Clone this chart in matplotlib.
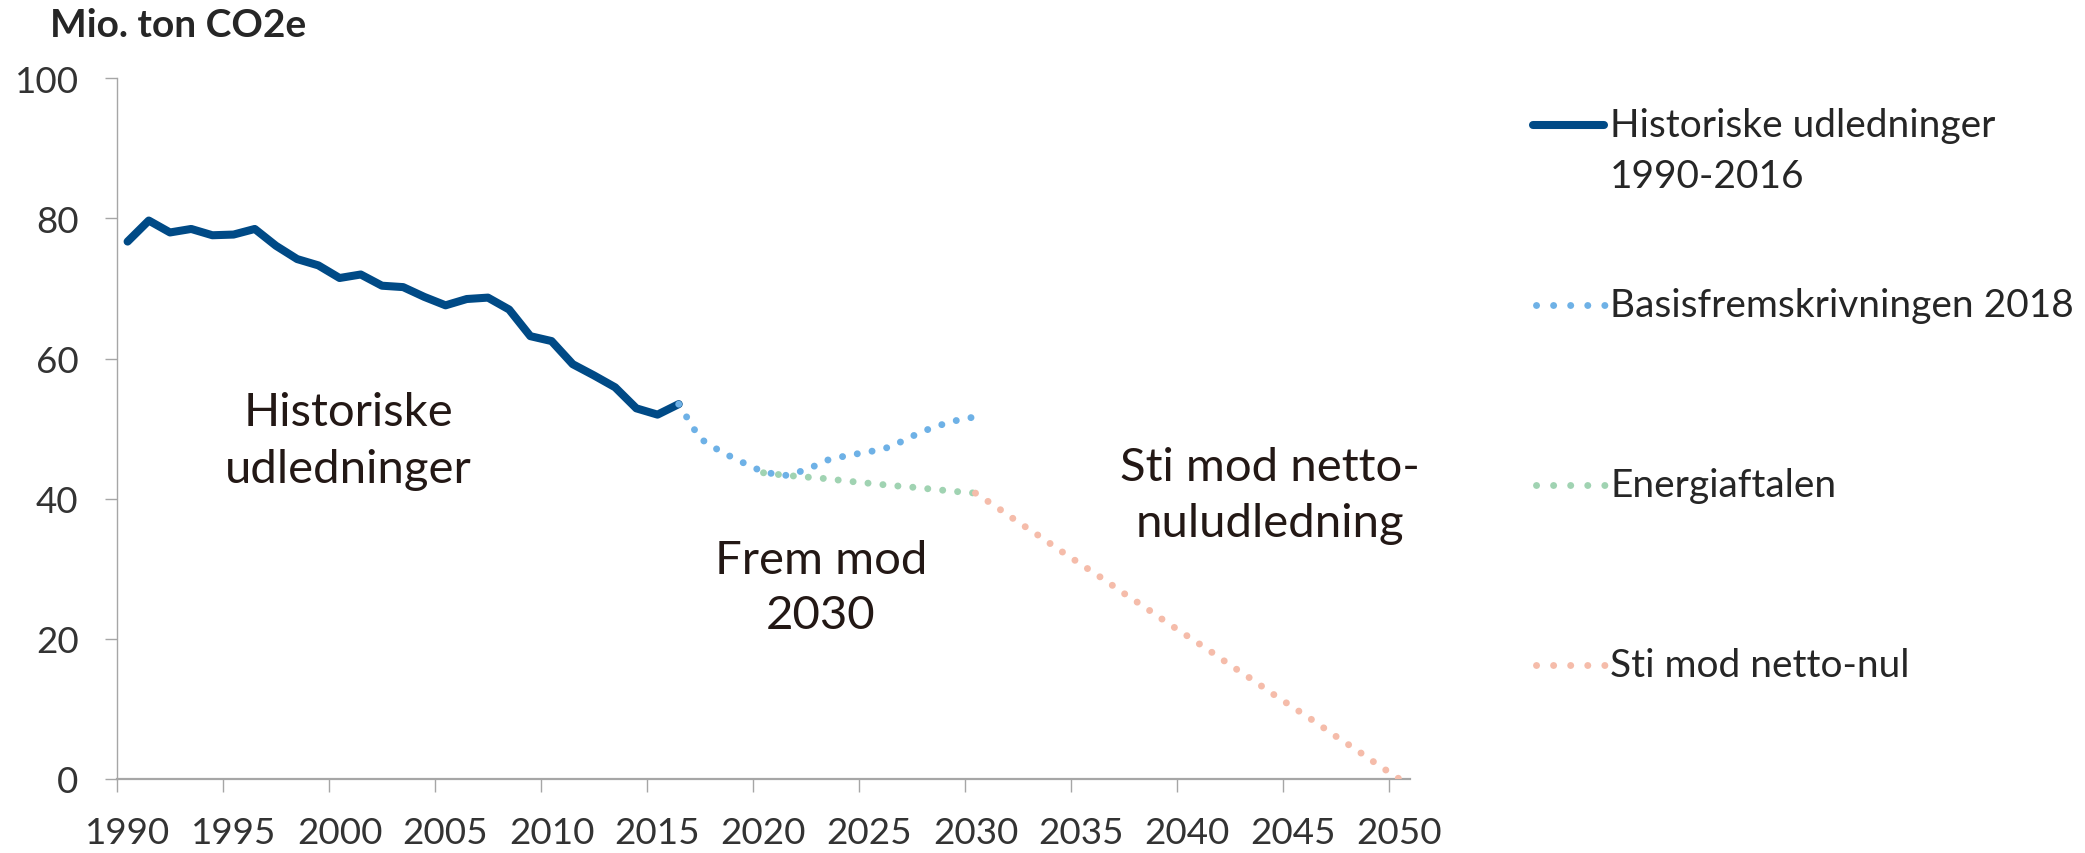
import matplotlib
matplotlib.use('Agg')
import matplotlib.pyplot as plt
from matplotlib.lines import Line2D

plt.rcParams['font.family'] = ['Lato', 'DejaVu Sans']

# ---- data ----
years_hist = list(range(1990, 2017))
hist = [76.7, 79.7, 78.0, 78.5, 77.6, 77.7, 78.5, 76.1, 74.2, 73.3,
        71.5, 72.0, 70.4, 70.2, 68.8, 67.6, 68.5, 68.7, 67.0, 63.2,
        62.5, 59.2, 57.6, 55.9, 52.9, 52.0, 53.5]
years_basis = list(range(2016, 2031))
basis = [53.5, 48.6, 46.7, 45.2, 43.8, 43.3, 44.1, 45.5, 46.2, 46.7,
         47.4, 48.9, 50.2, 51.1, 51.7]
years_energi = list(range(2020, 2031))
energi = [43.7, 43.35, 43.1, 42.85, 42.5, 42.2, 41.9, 41.65, 41.35, 41.05, 40.8]
years_netto = list(range(2030, 2051))
netto = [40.8, 38.8, 36.7, 34.7, 32.6, 30.6, 28.6, 26.5, 24.5, 22.4, 20.4,
         18.4, 16.3, 14.3, 12.2, 10.2, 8.2, 6.1, 4.1, 2.0, 0.0]

labels = ['Historiske udledninger\n1990-2016', 'Basisfremskrivningen 2018',
          'Energiaftalen', 'Sti mod netto-nul']
colors = ['#004a86', '#6eb1e6', '#a0d3b2', '#f5bcaa']
y_label = 'Mio. ton CO2e'
label_years = list(range(1990, 2051, 5))

W, H = 2085, 854
fig = plt.figure(figsize=(W / 100, H / 100), dpi=100)
ax = fig.add_axes([117 / W, 1 - 780 / H, (1410 - 117) / W, (780 - 79.3) / H])

dot_lw = 5.0
ax.plot(years_hist, hist, color=colors[0], lw=5.8, solid_capstyle='round',
        solid_joinstyle='round', zorder=3)
for yrs, vals, c, z in [(years_basis, basis, colors[1], 4),
                        (years_energi, energi, colors[2], 5),
                        (years_netto, netto, colors[3], 6)]:
    ax.plot(yrs, vals, color=c, lw=dot_lw, linestyle=(0, (0.01, 2.15)),
            dash_capstyle='round', zorder=z)

ax.set_xlim(1989.5, 2050.5)
ax.set_ylim(0, 100)
ax.set_yticks(range(0, 101, 20))
ax.set_xticks(label_years)
ax.set_xticklabels([str(y) for y in label_years])
ax.set_xticks([y - 0.5 for y in label_years], minor=True)
ax.tick_params(axis='x', which='major', length=0, pad=27, labelsize=26.5,
               labelcolor='#333333')
ax.tick_params(axis='x', which='minor', length=9.4, width=1.0,
               color='#a6a6a6', direction='out')
ax.tick_params(axis='y', which='major', length=8.6, width=1.0,
               color='#a6a6a6', direction='out', pad=19, labelsize=26.5,
               labelcolor='#333333')
for s in ['top', 'right']:
    ax.spines[s].set_visible(False)
ax.spines['left'].set_color('#a6a6a6')
ax.spines['left'].set_linewidth(1.0)
ax.spines['bottom'].set_color('#a6a6a6')
ax.spines['bottom'].set_linewidth(1.6)

# annotations
txtc = '#231815'
ax.text(2000.4, 48.3, 'Historiske\nudledninger', ha='center', va='center',
        fontsize=34, color=txtc, linespacing=1.42)
ax.text(2022.7, 27.3, 'Frem mod\n2030', ha='center', va='center',
        fontsize=34, color=txtc, linespacing=1.38)
ax.text(2043.9, 40.5, 'Sti mod netto-\nnuludledning', ha='center', va='center',
        fontsize=34, color=txtc, linespacing=1.42)

fig.text(50 / W, 1 - 37 / H, y_label, fontsize=28, fontweight='bold',
         color='#262626', va='baseline', ha='left')

# legend (manual)
leg_y = [126, 306, 486, 666]
x0, x1 = 1533 / W, 1604 / W
tx = 1610 / W
fs_leg = 28
for i, (lab, c, yy) in enumerate(zip(labels, colors, leg_y)):
    yf = 1 - yy / H
    if i == 0:
        fig.add_artist(Line2D([x0, x1], [yf, yf], transform=fig.transFigure,
                              color=c, lw=5.8, solid_capstyle='round'))
        fig.text(tx, yf, lab.split('\n')[0], fontsize=fs_leg, color='#262626',
                 va='center', ha='left')
        fig.text(tx, 1 - 177 / H, lab.split('\n')[1], fontsize=fs_leg,
                 color='#262626', va='center', ha='left')
    else:
        fig.add_artist(Line2D([1536 / W, 1606 / W], [yf, yf],
                              transform=fig.transFigure, color=c, lw=dot_lw,
                              linestyle=(0, (0.01, 2.45)), dash_capstyle='round'))
        fig.text(tx, yf, lab, fontsize=fs_leg, color='#262626',
                 va='center', ha='left')

fig.savefig('out.png', dpi=100)
